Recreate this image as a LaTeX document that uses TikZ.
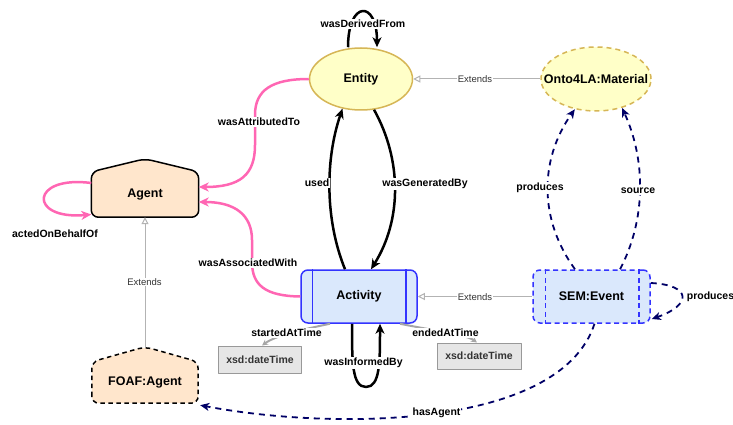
\documentclass[tikz,border=0pt]{standalone}
\usepackage{fontspec}
\setmainfont{Liberation Sans}
\usetikzlibrary{shapes.geometric,arrows.meta,calc,backgrounds}
\definecolor{pinkc}{HTML}{FF66B3}
\definecolor{navyc}{HTML}{000066}
\definecolor{bluec}{HTML}{3333FF}
\definecolor{bluefill}{HTML}{DAE8FC}
\definecolor{yelfill}{HTML}{FFFFC8}
\definecolor{yelline}{HTML}{D6B656}
\definecolor{orfill}{HTML}{FFE6CC}
\definecolor{grayfill}{HTML}{E6E6E6}
\definecolor{grayline}{HTML}{999999}
\definecolor{grayarrc}{HTML}{A6A6A6}
\definecolor{extline}{HTML}{B3B3B3}
\definecolor{txtgray}{HTML}{333333}
\begin{document}
\begin{tikzpicture}[x=1pt,y=-1pt,line join=round,
  nodefont/.style={font=\fontsize{12.5}{15}\selectfont\bfseries},
  ellipsenode/.style={ellipse,nodefont,fill=yelfill,draw=yelline,line width=1.5pt,minimum width=103pt,minimum height=62pt,inner sep=0pt},
  ontonode/.style={ellipsenode,dash pattern=on 5pt off 4pt,minimum width=110pt,minimum height=64pt,inner xsep=-14pt},
  housebody/.style={nodefont,minimum width=107pt,minimum height=45pt,inner sep=0pt},
  houseline/.style={fill=orfill,draw=black,line width=1.5pt,rounded corners=7pt},
  procnode/.style={rectangle,rounded corners=7pt,nodefont,fill=bluefill,draw=bluec,line width=1.5pt,minimum width=116pt,minimum height=53pt,inner sep=0pt},
  xsdnode/.style={rectangle,fill=grayfill,draw=grayline,line width=1pt,font=\fontsize{10.5}{12}\selectfont\bfseries,text=txtgray,minimum width=83pt,minimum height=27pt,inner sep=0pt},
  lbl/.style={fill=white,inner sep=1pt,font=\fontsize{10.5}{12}\selectfont\bfseries},
  extlbl/.style={fill=white,inner sep=1pt,font=\fontsize{9.5}{11}\selectfont,text=txtgray},
  blk/.style={draw=black,line width=2.5pt,-{Stealth[length=10pt,width=9pt,inset=3pt]}},
  pinkarr/.style={draw=pinkc,line width=2.5pt,-{Stealth[length=10pt,width=9pt,inset=3pt]}},
  navyarr/.style={draw=navyc,line width=1.8pt,dash pattern=on 6pt off 5pt,-{Stealth[length=9pt,width=8pt,inset=2.5pt]}},
  grayarr/.style={draw=grayarrc,line width=2pt,-{Stealth[length=6pt,width=6pt]}},
  extarr/.style={draw=extline,line width=1pt,-{Triangle[open,length=7pt,width=7pt,fill=white]}}
]
\useasboundingbox (0,0) rectangle (733,425);

% nodes
\node[ellipsenode] (entity) at (361,79) {Entity};
\node[ontonode] (onto) at (596,79) {Onto4LA:Material};
\node[housebody] (agent) at (145,194.5) {Agent};
\node[housebody,minimum width=106pt,minimum height=41pt] (foaf) at (145,382.5) {FOAF:Agent};
\node[procnode] (activity) at (359,296.5) {Activity};
\node[procnode,minimum width=117pt,dash pattern=on 5pt off 3.5pt] (semevent) at (591.5,296.5) {SEM:Event};
\node[xsdnode] (xsda) at (260,359.5) {xsd:dateTime};
\node[xsdnode,minimum width=84pt,minimum height=26pt] (xsdb) at (479,356) {xsd:dateTime};

\begin{scope}[on background layer]
  \draw[houseline] (agent.south west) -- (agent.north west) -- ($(agent.north)+(0,-13)$) -- (agent.north east) -- (agent.south east) -- cycle;
  \draw[houseline,dash pattern=on 4.5pt off 3.5pt] (foaf.south west) -- (foaf.north west) -- ($(foaf.north)+(0,-15)$) -- (foaf.north east) -- (foaf.south east) -- cycle;
\end{scope}

% inner lines of process shapes
\draw[bluec,line width=1.5pt] ([xshift=12pt]activity.north west) -- ([xshift=12pt]activity.south west);
\draw[bluec,line width=1.5pt] ([xshift=-12pt]activity.north east) -- ([xshift=-12pt]activity.south east);
\draw[bluec,line width=1.5pt,dash pattern=on 5pt off 3.5pt] ([xshift=13pt]semevent.north west) -- ([xshift=13pt]semevent.south west);
\draw[bluec,line width=1.5pt,dash pattern=on 5pt off 3.5pt] ([xshift=-12pt]semevent.north east) -- ([xshift=-12pt]semevent.south east);

% black edges
\draw[blk] ([xshift=-13pt]entity.north) .. controls (348,0) and (377,0) .. ([xshift=16pt]entity.north);
\draw[blk] ([xshift=-14pt]activity.north) .. controls (325,220) and (325,160) .. (entity.238);
\draw[blk] (entity.293) .. controls (402,160) and (402,220) .. ([xshift=12pt]activity.north);
\draw[blk] ([xshift=-7pt]activity.south) .. controls (352,362) and (352,387) .. (366,387) .. controls (380,387) and (380,362) .. ([xshift=21pt]activity.south);

% pink edges
\draw[pinkarr] (entity.west) .. controls (272,79) and (255,90) .. (255,115) -- (255,145) .. controls (255,175) and (240,187) .. ([yshift=7.5pt]agent.east);
\draw[pinkarr] (activity.west) .. controls (265,296) and (252,285) .. (252,262) -- (252,240) .. controls (252,215) and (235,202) .. ([yshift=-7.5pt]agent.east);
\draw[pinkarr] ([yshift=11.5pt]agent.west) .. controls (30,175) and (28,220) .. ([yshift=-20pt]agent.west);

% gray attribute arrows
\draw[grayarr] ([xshift=-29pt]activity.south) .. controls (300,330) and (275,336) .. ([xshift=2pt]xsda.north);
\draw[grayarr] ([xshift=41pt]activity.south) .. controls (430,330) and (465,334) .. ([xshift=-2pt]xsdb.north);

% extends
\draw[extarr] (onto.west) -- (entity.east);
\draw[extarr] (semevent.west) -- (activity.east);
\draw[extarr] ($(foaf.north)+(0,-15)$) -- (agent.south);

% navy dashed edges
\draw[navyarr] ([xshift=-16.5pt]semevent.north) .. controls (539,220) and (539,160) .. (onto.235);
\draw[navyarr] ([xshift=28.5pt]semevent.north) .. controls (646,220) and (646,160) .. (onto.312);
\draw[navyarr] ([yshift=13.5pt]semevent.east) .. controls (692,285) and (692,305) .. ([yshift=-22.5pt,xshift=1pt]semevent.east);
\draw[navyarr] ([xshift=3pt]semevent.south) .. controls (560,430) and (330,430) .. ([xshift=2pt,yshift=-2pt]foaf.south east);

% labels
\node[lbl] (lderived) at (363,24) {wasDerivedFrom};
\node[lbl] (lattr) at (259,122) {wasAttributedTo};
\node[lbl] (lassoc) at (248,263) {wasAssociatedWith};
\node[lbl] (lacted) at (55,234) {actedOnBehalfOf};
\node[lbl] (lused) at (317,183) {used};
\node[lbl] (lgen) at (425,184) {wasGeneratedBy};
\node[lbl] (linformed) at (363.5,363) {wasInformedBy};
\node[lbl] (lstarted) at (286.5,333) {startedAtTime};
\node[lbl] (lended) at (445.5,333) {endedAtTime};
\node[extlbl] (lextA) at (475,79) {Extends};
\node[extlbl] (lextB) at (475,297) {Extends};
\node[extlbl] (lextC) at (144.5,282) {Extends};
\node[lbl] (lprodA) at (540,188) {produces};
\node[lbl] (lsource) at (638,191) {source};
\node[lbl] (lprodB) at (710.5,297) {produces};
\node[lbl] (lhasagent) at (436.5,413) {hasAgent};
\end{tikzpicture}
\end{document}
